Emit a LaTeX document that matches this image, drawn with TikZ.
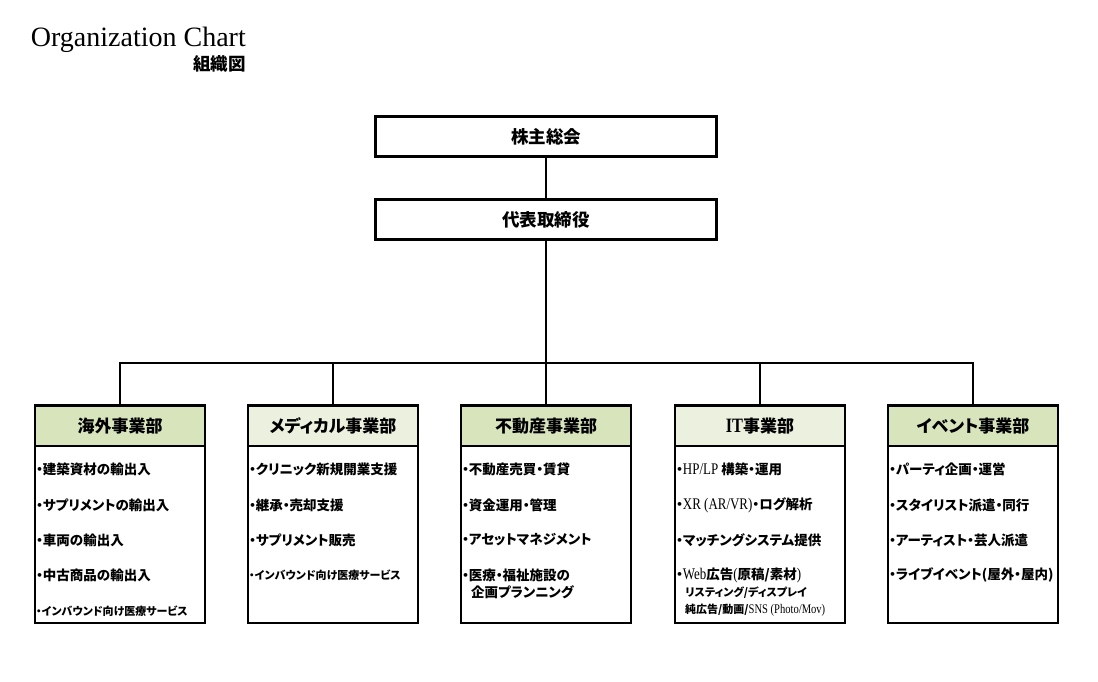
\documentclass[tikz,border=0pt]{standalone}
\usepackage{fontspec}
\setmainfont{Liberation Serif}
\newfontfamily\jp{Noto Sans CJK JP}[RawFeature=+palt]
\newfontfamily\lat{Liberation Serif}[FakeStretch=0.8, Scale=1.2]
\definecolor{hdgreen}{HTML}{D8E4BC}
\definecolor{hdlight}{HTML}{EBF1DE}
\tikzset{
  box/.style={draw=black, line width=2.9pt, inner sep=0pt},
  topbox/.style={box, fill=white, minimum width=341.5pt, minimum height=40pt, font=\jp\bfseries\fontsize{17.5}{20}\selectfont},
  head/.style={box, minimum width=170pt, minimum height=40.5pt, font=\jp\bfseries\fontsize{17}{19}\selectfont},
  body/.style={box, fill=white, minimum width=170pt, minimum height=177pt},
  item/.style={anchor=west, inner sep=0pt, font=\jp\bfseries\fontsize{13.5}{15}\selectfont},
  smallitem/.style={anchor=west, inner sep=0pt, font=\jp\bfseries\fontsize{11}{13}\selectfont},
  link/.style={line width=2.6pt, line join=miter}
}
\begin{document}
\begin{tikzpicture}[x=1pt,y=-1pt]
\fill[white] (0,0) rectangle (1098,682);
\useasboundingbox (0,0) rectangle (1098,682);

% title
\node[anchor=base east, inner sep=0pt, font=\fontsize{28}{30}\selectfont] (title) at (246,47) {Organization Chart};
\node[anchor=east, inner sep=0pt, font=\jp\bfseries\fontsize{17.5}{19}\selectfont] (subtitle) at (246,63.5) {組織図};

% top boxes
\node[topbox] (gm) at (546,136.5) {株主総会};
\node[topbox] (ceo) at (546,219.5) {代表取締役};

% department boxes
\foreach \i/\cx/\col/\name in {1/120/hdgreen/海外事業部, 2/333/hdlight/メディカル事業部, 3/546/hdgreen/不動産事業部, 4/760/hdlight/{\lat\bfseries IT}事業部, 5/973/hdgreen/イベント事業部}{
  \node[body] (b\i) at (\cx,534.5) {};
  \node[head, fill=\col] (h\i) at (\cx,425.75) {\name};
}

% connectors
\coordinate (bus) at (546,363);
\draw[link] (gm.south) -- (ceo.north);
\draw[link] (ceo.south) -- (h3.north);
\draw[link] (h1.north) |- (bus) -| (h5.north);
\draw[link] (h2.north) |- (bus);
\draw[link] (h4.north) |- (bus);

% items: 海外
\node[item] (a1) at (36,469) {・建築資材の輸出入};
\node[item] (a2) at (36,505) {・サプリメントの輸出入};
\node[item] (a3) at (36,540) {・車両の輸出入};
\node[item] (a4) at (36,575) {・中古商品の輸出入};
\node[smallitem] (a5) at (36,611) {・インバウンド向け医療サービス};

% メディカル
\node[item] (m1) at (249,469) {・クリニック新規開業支援};
\node[item] (m2) at (249,505) {・継承・売却支援};
\node[item] (m3) at (249,540) {・サプリメント販売};
\node[smallitem] (m4) at (249,575) {・インバウンド向け医療サービス};

% 不動産
\node[item] (r1) at (462,469) {・不動産売買・賃貸};
\node[item] (r2) at (462,505) {・資金運用・管理};
\node[item] (r3) at (462,540) {・アセットマネジメント};
\node[item] (r4) at (462,575) {・医療・福祉施設の};
\node[item] (r5) at (471,592) {企画プランニング};

% IT
\node[item] (t1) at (676,469) {・{\lat\mdseries HP/LP} 構築・運用};
\node[item] (t2) at (676,505) {・{\lat\mdseries XR (AR/VR)}・ログ解析};
\node[item] (t3) at (676,540) {・マッチングシステム提供};
\node[item] (t4) at (676,575) {・{\lat\mdseries Web}広告{\lat\mdseries (}原稿/素材{\lat\mdseries )}};
\node[smallitem] (t5) at (685,593) {リスティング/ディスプレイ};
\node[smallitem] (t6) at (685,610) {純広告/動画/{\lat\mdseries SNS (Photo/Mov)}};

% イベント
\node[item] (e1) at (889,469) {・パーティ企画・運営};
\node[item] (e2) at (889,505) {・スタイリスト派遣・同行};
\node[item] (e3) at (889,540) {・アーティスト・芸人派遣};
\node[item] (e4) at (889,575) {・ライブイベント(屋外・屋内)};
\end{tikzpicture}
\end{document}
